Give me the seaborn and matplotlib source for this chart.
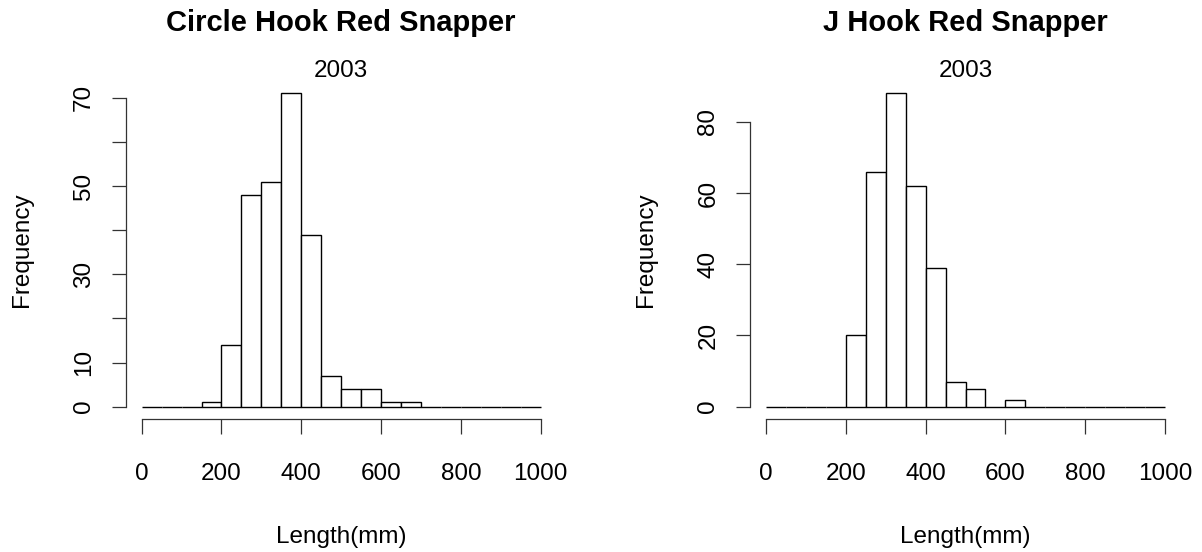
import numpy as np
import pandas as pd
import matplotlib
matplotlib.use('Agg')
import matplotlib.pyplot as plt
import seaborn as sns

# Bin edges (mm) and counts
bin_edges = list(range(0, 1050, 50))
circle_counts = [0, 0, 0, 1, 14, 48, 51, 71, 39, 7, 4, 4, 1, 1, 0, 0, 0, 0, 0, 0]
j_counts = [0, 0, 0, 0, 20, 66, 88, 62, 39, 7, 5, 0, 2, 0, 0, 0, 0, 0, 0, 0]

x_ticks = [0, 200, 400, 600, 800, 1000]
circle_yticks = [0, 10, 20, 30, 40, 50, 60, 70]
circle_ylabels = ['0', '10', '', '30', '', '50', '', '70']
j_yticks = [0, 20, 40, 60, 80]
j_ylabels = ['0', '20', '40', '60', '80']

titles = ['Circle Hook Red Snapper', 'J Hook Red Snapper']
year = '2003'

sns.set_style('ticks')
plt.rcParams['font.family'] = ['Liberation Sans', 'DejaVu Sans']
plt.rcParams['text.color'] = 'black'

W, H = 1202, 552
fig = plt.figure(figsize=(W / 100, H / 100), dpi=100)

# axes boxes in pixels: left, top, right, bottom
boxes = [(125.7, 80.8, 556.7, 419.2), (750.0, 80.8, 1181.0, 419.2)]
ylab_x = [22, 646]
base = 17.5

panels = [
    (circle_counts, circle_yticks, circle_ylabels),
    (j_counts, j_yticks, j_ylabels),
]

for i, (counts, yt, yl) in enumerate(panels):
    l, t, r, b = boxes[i]
    ax = fig.add_axes([l / W, 1 - b / H, (r - l) / W, (b - t) / H])
    df = pd.DataFrame({'mid': np.array(bin_edges[:-1]) + 25, 'n': counts})
    sns.histplot(data=df, x='mid', weights='n', bins=bin_edges, ax=ax,
                 color='white', edgecolor='black', linewidth=1.0, alpha=1)
    top = max(counts)
    ax.set_xlim(-40, 1040)
    ax.set_ylim(-0.04 * top, top * 1.04)
    for s in ['top', 'right']:
        ax.spines[s].set_visible(False)
    ax.spines['left'].set_bounds(yt[0], yt[-1])
    ax.spines['bottom'].set_bounds(0, 1000)
    for s in ['left', 'bottom']:
        ax.spines[s].set_color('#333333')
        ax.spines[s].set_linewidth(0.9)
    ax.set_xticks(x_ticks)
    ax.set_xticklabels([str(v) for v in x_ticks])
    ax.set_yticks(yt)
    ax.set_yticklabels(yl, rotation=90, va='center')
    ax.tick_params(axis='x', length=10.5, width=0.9, color='#333333', pad=21,
                   labelsize=base, labelcolor='black')
    ax.tick_params(axis='y', length=10, width=0.9, color='#333333', pad=12,
                   labelsize=base, labelcolor='black')
    ax.set_xlabel('')
    ax.set_ylabel('')
    cx = (l + r) / 2 / W
    fig.text(cx, 1 - 23 / H, titles[i], ha='center', va='center',
             fontsize=21, fontweight='bold')
    fig.text(cx, 1 - 71 / H, year, ha='center', va='center', fontsize=base)
    fig.text(cx, 1 - 537 / H, 'Length(mm)', ha='center', va='center', fontsize=base)
    fig.text(ylab_x[i] / W, 1 - 250 / H, 'Frequency', ha='center', va='center',
             rotation=90, fontsize=base)

fig.savefig('out.png', dpi=100)
